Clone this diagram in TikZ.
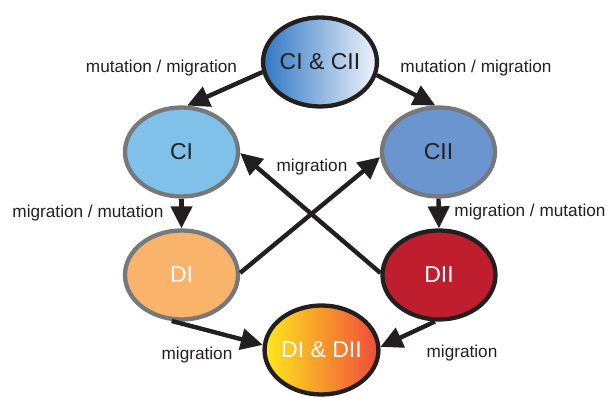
\documentclass[tikz,border=0pt]{standalone}
\usepackage{fontspec}
\setmainfont{Liberation Sans}
\usetikzlibrary{shapes.geometric,arrows.meta}
\definecolor{ink}{HTML}{231F20}
\definecolor{ringgray}{HTML}{77787B}
\definecolor{cbA}{HTML}{2F78C4}
\definecolor{cbB}{HTML}{F0F4FB}
\definecolor{ciFill}{HTML}{80C1EA}
\definecolor{ciiFill}{HTML}{6B95CF}
\definecolor{diFill}{HTML}{F9B36B}
\definecolor{diiFill}{HTML}{BE1E2D}
\definecolor{ddA}{HTML}{FFE81C}
\definecolor{ddB}{HTML}{F9B233}
\definecolor{ddC}{HTML}{EF4B3A}
\begin{document}
\begin{tikzpicture}[x=1pt,y=1pt,
  state/.style={ellipse, minimum width=113pt, minimum height=89pt, line width=4.3pt,
    inner sep=0pt, font=\fontsize{23}{27}\selectfont},
  lbl/.style={font=\fontsize{17.2}{20}\selectfont, text=ink, inner sep=0pt},
  arr/.style={line width=4.4pt, draw=ink, -{Triangle[length=22pt,width=21pt]}},
]
\useasboundingbox (0,0) rectangle (608,398);
\node[state, draw=ink, left color=cbA, right color=cbB, text=ink] (cc) at (320,336) {CI \& CII};
\node[state, draw=ringgray, fill=ciFill, text=ink] (ci) at (181.5,246) {CI};
\node[state, draw=ringgray, fill=ciiFill, text=ink] (cii) at (438.5,246) {CII};
\node[state, draw=ringgray, fill=diFill, text=white] (di) at (181.5,123) {DI};
\node[state, draw=ink, fill=diiFill, text=white] (dii) at (439,123) {DII};
\node[state, draw=ink, left color=ddA, middle color=ddB, right color=ddC, text=white] (dd) at (321.5,48) {DI \& DII};

\draw[arr] (cc.190) -- (ci.83);
\draw[arr] (cc.347) -- (cii.94);
\draw[arr] (ci.south) -- (di.north);
\draw[arr] (cii.south) -- (dii.north);
\draw[arr] (di.2) -- (cii.185);
\draw[arr] (dii.178) -- (ci.359);
\draw[arr] (di.258) -- (dd.175);
\draw[arr] (dii.265) -- (dd.3);

\node[lbl] (l1) at (161.5,330) {mutation / migration};
\node[lbl] (l2) at (476,330) {mutation / migration};
\node[lbl] (l3) at (312,231) {migration};
\node[lbl] (l4) at (88,185) {migration / mutation};
\node[lbl] (l5) at (530,186) {migration / mutation};
\node[lbl] (l6) at (197,43) {migration};
\node[lbl] (l7) at (462,45) {migration};
\end{tikzpicture}
\end{document}
